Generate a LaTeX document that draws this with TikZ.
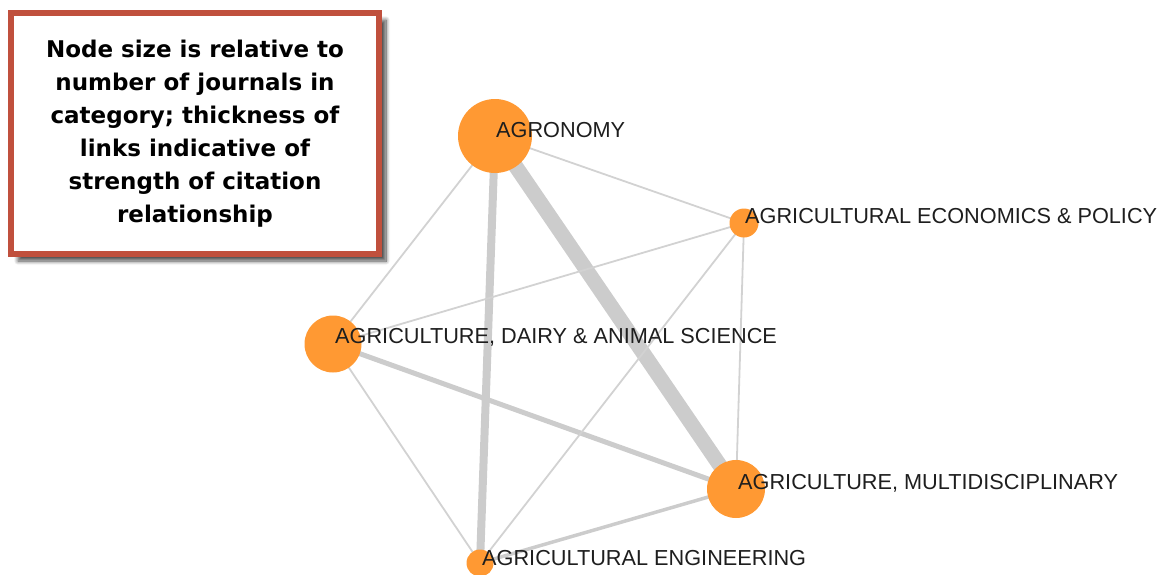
\documentclass[tikz,border=0pt]{standalone}
\usepackage{fontspec}
\setmainfont{Liberation Sans}
\newfontfamily\boxfont{DejaVu Sans}
\usetikzlibrary{shadows.blur}
\definecolor{nodeorange}{HTML}{FF9933}
\definecolor{edgegray}{HTML}{CCCCCC}
\definecolor{thingray}{HTML}{D2D2D2}
\definecolor{boxred}{HTML}{C0503D}
\definecolor{labelgray}{HTML}{1E1E1E}
\begin{document}
\begin{tikzpicture}[x=1pt,y=-1pt,
  cat/.style={circle,fill=nodeorange,inner sep=0pt,minimum size=#1},
  catlabel/.style={anchor=base west,inner sep=0pt,font=\fontsize{21.7}{25}\selectfont,text=labelgray},
  link/.style={draw=edgegray,line width=#1},
  thinlink/.style={draw=thingray,line width=1.8pt},
  legendbox/.style={draw=boxred,line width=6pt,fill=white,minimum width=368pt,minimum height=241pt,
    align=center,inner sep=0pt,font=\boxfont\bfseries\fontsize{23}{33}\selectfont,
    blur shadow={shadow xshift=7pt,shadow yshift=-7pt,shadow blur radius=4pt,shadow blur steps=10,shadow opacity=70}}]
\useasboundingbox (0,0) rectangle (1170,574);

% node centres
\coordinate (agro) at (495,136);
\coordinate (econ) at (744,223);
\coordinate (dairy) at (333,344);
\coordinate (multi) at (736,489);
\coordinate (eng) at (480,563);

% links
\draw[link=15pt] (agro) -- (multi);
\draw[link=8pt] (agro) -- (eng);
\draw[link=5pt] (dairy) -- (multi);
\draw[link=3.5pt] (multi) -- (eng);
\draw[thinlink] (agro) -- (dairy);
\draw[thinlink] (agro) -- (econ);
\draw[thinlink] (dairy) -- (econ);
\draw[thinlink] (dairy) -- (eng);
\draw[thinlink] (econ) -- (multi);
\draw[thinlink] (econ) -- (eng);

% category circles
\node[cat=74pt] (agroC) at (agro) {};
\node[cat=29pt] (econC) at (econ) {};
\node[cat=57pt] (dairyC) at (dairy) {};
\node[cat=58pt] (multiC) at (multi) {};
\node[cat=27pt] (engC) at (eng) {};

% labels
\node[catlabel] (agroL) at ([xshift=1pt,yshift=-1pt]agroC.center) {AGRONOMY};
\node[catlabel] (econL) at ([xshift=1pt]econC.center) {AGRICULTURAL ECONOMICS \& POLICY};
\node[catlabel] (dairyL) at ([xshift=2pt,yshift=1pt]dairyC.center) {AGRICULTURE, DAIRY \& ANIMAL SCIENCE};
\node[catlabel] (multiL) at ([xshift=2pt]multiC.center) {AGRICULTURE, MULTIDISCIPLINARY};
\node[catlabel] (engL) at ([xshift=2pt,yshift=-2pt]engC.center) {AGRICULTURAL ENGINEERING};

% legend box
\node[legendbox] (legend) at (195,133.5) {Node size is relative to\\number of journals in\\category; thickness of\\links indicative of\\strength of citation\\relationship};
\end{tikzpicture}
\end{document}
